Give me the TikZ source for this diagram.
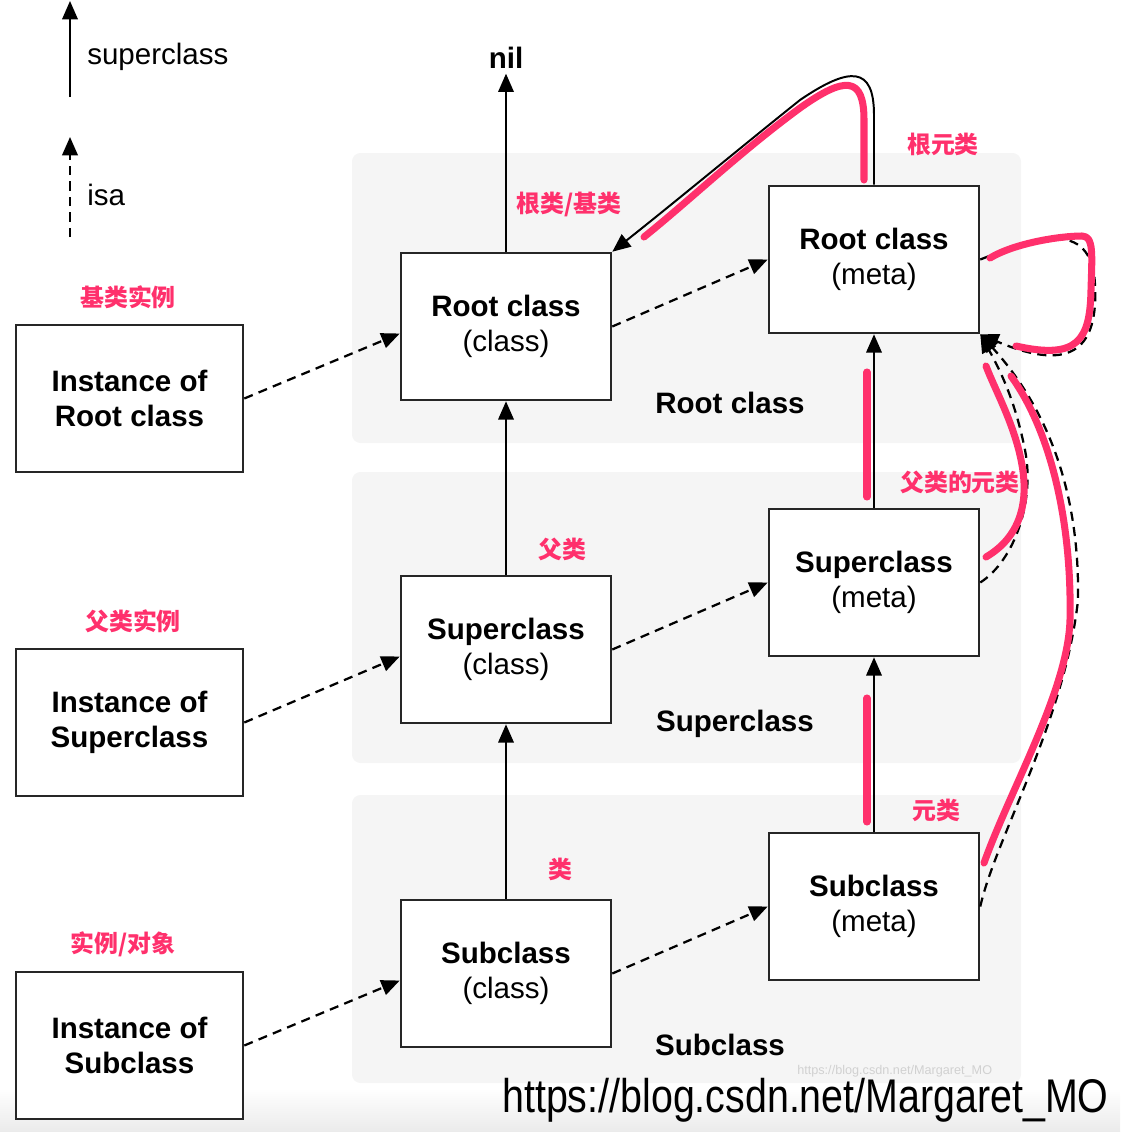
\documentclass[tikz,border=0pt]{standalone}
\usepackage{graphicx}
\usepackage{fontspec}
\setmainfont{Liberation Sans}
\newfontfamily\cjk{Noto Sans CJK SC}
\usetikzlibrary{arrows.meta}
\definecolor{hlpink}{RGB}{255,48,108}
\definecolor{bandgray}{RGB}{245,245,245}

\begin{document}
\begin{tikzpicture}[x=0.025cm, y=-0.025cm,
    box/.style={draw=black!85, line width=1.8pt, fill=white, align=center,
      minimum width=5.25cm, minimum height=3.675cm, font=\fontsize{21}{25}\selectfont},
    instbox/.style={box, minimum width=5.675cm, font=\fontsize{21}{25}\selectfont\bfseries},
    grp/.style={font=\fontsize{21}{25}\selectfont\bfseries},
    sup/.style={line width=1.4pt, -{Triangle[length=13pt,width=11pt]}},
    isa/.style={sup, line width=1.6pt, dash pattern=on 6.5pt off 4.5pt},
    note/.style={text=hlpink, font=\cjk\bfseries\fontsize{17}{20}\selectfont},
    pen/.style={hlpink, line width=5pt, line cap=round, line join=round}]
  \useasboundingbox (0,0) rectangle (1120,1132);

  % bands
  \fill[bandgray, rounded corners=6pt] (352,153) rectangle (1021,443);
  \fill[bandgray, rounded corners=6pt] (352,472) rectangle (1021,763);
  \fill[bandgray, rounded corners=6pt] (352,795) rectangle (1021,1083);
  \shade[top color=white, bottom color=black!8] (0,1088) rectangle (1120,1132);

  % legend
  \coordinate (lgs1) at (70,97);
  \coordinate (lgs2) at (70,1);
  \coordinate (lgi1) at (70,237);
  \coordinate (lgi2) at (70,137);
  \node[font=\fontsize{21}{25}\selectfont, anchor=west, inner sep=0] (lgsup) at (87,57) {superclass};
  \node[font=\fontsize{21}{25}\selectfont, anchor=west, inner sep=0] (lgisa) at (87,195) {isa};
  \draw[sup] (lgs1) -- (lgs2);
  \draw[isa] (lgi1) -- (lgi2);

  \node[instbox] (inst1) at (129.5,398.5) {Instance of\\Root class};
  \node[instbox] (inst2) at (129.5,722.5) {Instance of\\Superclass};
  \node[instbox] (inst3) at (129.5,1045.5) {Instance of\\Subclass};

  \node[box] (cls1) at (506,326.5) {{\bfseries Root class}\\(class)};
  \node[box] (cls2) at (506,649.5) {{\bfseries Superclass}\\(class)};
  \node[box] (cls3) at (506,973.5) {{\bfseries Subclass}\\(class)};

  \node[box] (meta1) at (874,259.5) {{\bfseries Root class}\\(meta)};
  \node[box] (meta2) at (874,582.5) {{\bfseries Superclass}\\(meta)};
  \node[box] (meta3) at (874,906.5) {{\bfseries Subclass}\\(meta)};

  \node[grp] (nil) at (506,58) {nil};
  \node[grp] (grp1) at (730,403) {Root class};
  \node[grp] (grp2) at (735,724) {Superclass};
  \node[grp] (grp3) at (720,1045) {Subclass};

  % superclass
  \draw[sup] (cls1.north) -- (nil.south);
  \draw[sup] (cls2) -- (cls1);
  \draw[sup] (cls3) -- (cls2);
  \draw[sup] (meta2) -- (meta1);
  \draw[sup] (meta3) -- (meta2);
  \draw[sup] (meta1.north) -- (874,115) .. controls (874,66) and (850,66) .. (800,100)
    .. controls (740,148) and (680,198) .. (cls1.north east);

  % isa
  \draw[isa] (inst1.east) -- ([yshift=-5pt]cls1.west);
  \draw[isa] (inst2.east) -- ([yshift=-5pt]cls2.west);
  \draw[isa] (inst3.east) -- ([yshift=-5pt]cls3.west);
  \draw[isa] (cls1.east) -- (meta1.west);
  \draw[isa] (cls2.east) -- (meta2.west);
  \draw[isa] (cls3.east) -- (meta3.west);
  \draw[isa] (meta1.east) .. controls (1030,240) and (1092,215) .. (1095,285)
    .. controls (1098,345) and (1075,375) .. (meta1.south east);
  \draw[isa] (meta2.east) .. controls (1015,560) and (1035,500) .. (1025,450)
    .. controls (1015,400) and (1000,370) .. (meta1.south east);
  \draw[isa] (meta3.east) .. controls (995,840) and (1065,720) .. (1078,600)
    .. controls (1080,480) and (1040,400) .. (meta1.south east);

  % pink marks
  \draw[pen] (864,180) -- (864,120) .. controls (864,76) and (845,76) .. (800,108)
    .. controls (740,152) and (690,200) .. (644,237);
  \draw[pen] (990,258) .. controls (1015,243) and (1060,236) .. (1082,236)
    .. controls (1094,236) and (1092,255) .. (1091,290)
    .. controls (1090,340) and (1078,360) .. (1016,346);
  \draw[pen] (986,557) .. controls (1015,540) and (1030,510) .. (1022,465)
    .. controls (1015,425) and (995,390) .. (986,366);
  \draw[pen] (984,863) .. controls (1010,790) and (1068,690) .. (1070,620)
    .. controls (1072,520) and (1050,430) .. (1011,376);
  \draw[pen] (867,372) -- (867,497);
  \draw[pen] (867,698) -- (867,822);

  \node[note] (n1) at (128,297) {基类实例};
  \node[note] (n2) at (133,621) {父类实例};
  \node[note] (n3) at (123,944) {实例/对象};
  \node[note] (n4) at (569,204) {根类/基类};
  \node[note] (n5) at (562,549) {父类};
  \node[note] (n6) at (560,869) {类};
  \node[note] (n7) at (943,144) {根元类};
  \node[note] (n8) at (960,482) {父类的元类};
  \node[note] (n9) at (936,810) {元类};

  % watermark
  \node[text=black!18, font=\fontsize{9}{10}\selectfont, anchor=west, inner sep=0] (wm2) at (797,1071) {https://blog.csdn.net/Margaret\_MO};
  \node[font=\fontsize{28}{30}\selectfont, anchor=west, inner sep=0] (wm) at (502,1100) {\scalebox{1}[1.2]{https://blog.csdn.net/Margaret\_MO}};
\end{tikzpicture}
\end{document}
